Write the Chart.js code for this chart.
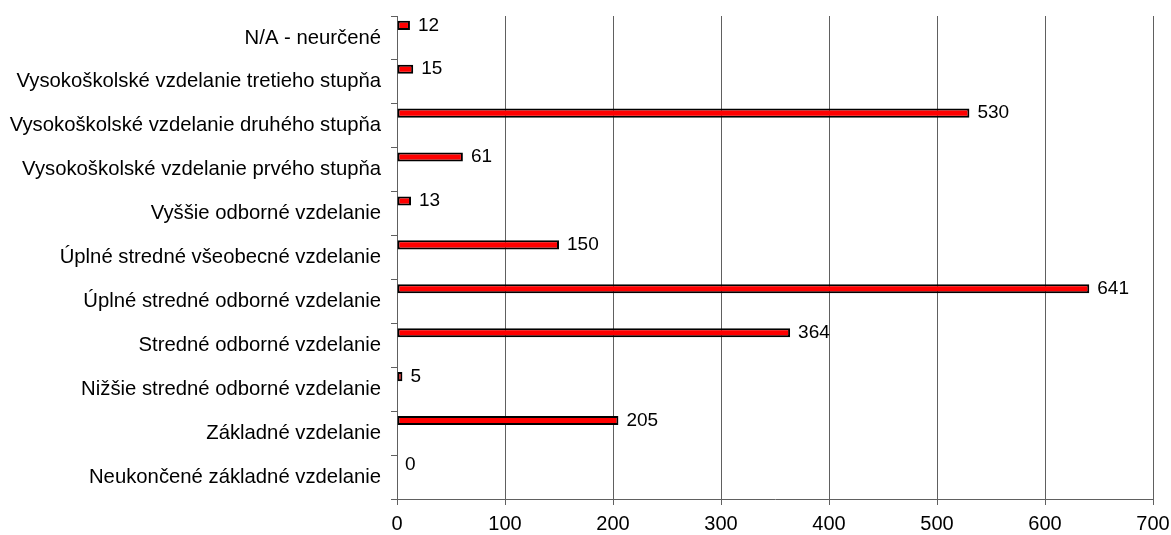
<!DOCTYPE html>
<html>
<head>
<meta charset="utf-8">
<script src="https://cdn.jsdelivr.net/npm/chart.js@4"></script>
<style>
  html, body { margin: 0; padding: 0; background: #fff; }
  canvas { display: block; }
</style>
</head>
<body>
<canvas id="chart" width="1171" height="535"></canvas>
<script>
// categories, top to bottom as in the picture
const categories = [
  "N/A - neurčené",
  "Vysokoškolské vzdelanie tretieho stupňa",
  "Vysokoškolské vzdelanie druhého stupňa",
  "Vysokoškolské vzdelanie prvého stupňa",
  "Vyššie odborné vzdelanie",
  "Úplné stredné všeobecné vzdelanie",
  "Úplné stredné odborné vzdelanie",
  "Stredné odborné vzdelanie",
  "Nižšie stredné odborné vzdelanie",
  "Základné vzdelanie",
  "Neukončené základné vzdelanie",
];
const counts = [12, 15, 530, 61, 13, 150, 641, 364, 5, 205, 0];
// second series is empty in the source chart, it only takes the lower slot
const emptySeries = [null, null, null, null, null, null, null, null, null, null, null];
const xTicks = [0, 100, 200, 300, 400, 500, 600, 700];

const FONT = "'Liberation Sans', Arial, sans-serif";
const lineColor = "#606060";

// value labels right of each bar
const valueLabels = {
  id: "valueLabels",
  afterDatasetsDraw(chart) {
    const ctx = chart.ctx;
    const meta = chart.getDatasetMeta(0);
    ctx.save();
    ctx.font = "19px " + FONT;
    ctx.fillStyle = "#000";
    ctx.textAlign = "left";
    ctx.textBaseline = "middle";
    meta.data.forEach((bar, i) => {
      ctx.fillText(String(counts[i]), bar.x + 8, bar.y);
    });
    ctx.restore();
  },
};

new Chart(document.getElementById("chart"), {
  type: "bar",
  data: {
    labels: categories,
    datasets: [
      {
        label: "Počet",
        data: counts,
        backgroundColor: "#ff0000",
        borderColor: "#000",
        borderWidth: 2,
        borderSkipped: false,
        categoryPercentage: 1.15,
        barPercentage: 0.36,
      },
      {
        label: "",
        data: emptySeries,
        backgroundColor: "#ff0000",
        categoryPercentage: 1.15,
        barPercentage: 0.36,
      },
    ],
  },
  options: {
    indexAxis: "y",
    responsive: false,
    animation: false,
    layout: { padding: { top: 16, right: 18, left: 0, bottom: 0 } },
    plugins: {
      legend: { display: false },
      tooltip: { enabled: false },
    },
    scales: {
      x: {
        min: 0,
        max: 700,
        afterBuildTicks: (scale) => {
          scale.ticks = xTicks.map((v) => ({ value: v }));
        },
        afterFit: (scale) => {
          scale.height = 36;
          // label overhang is left to the layout padding
          scale.paddingLeft = 0;
          scale.paddingRight = 0;
        },
        grid: { color: lineColor, lineWidth: 1, tickLength: 6 },
        border: { display: true, color: lineColor, width: 1 },
        ticks: {
          color: "#000",
          font: { family: FONT, size: 20 },
          padding: 7,
          maxRotation: 0,
        },
      },
      y: {
        afterFit: (scale) => {
          scale.width = 397;
          scale.paddingTop = 0;
          scale.paddingBottom = 0;
        },
        grid: {
          drawOnChartArea: false,
          drawTicks: true,
          tickLength: 6,
          color: lineColor,
        },
        border: { display: true, color: lineColor, width: 1 },
        ticks: {
          color: "#000",
          font: { family: FONT, size: 20.3 },
          padding: 10,
          autoSkip: false,
        },
      },
    },
  },
  plugins: [valueLabels],
});
</script>
</body>
</html>
